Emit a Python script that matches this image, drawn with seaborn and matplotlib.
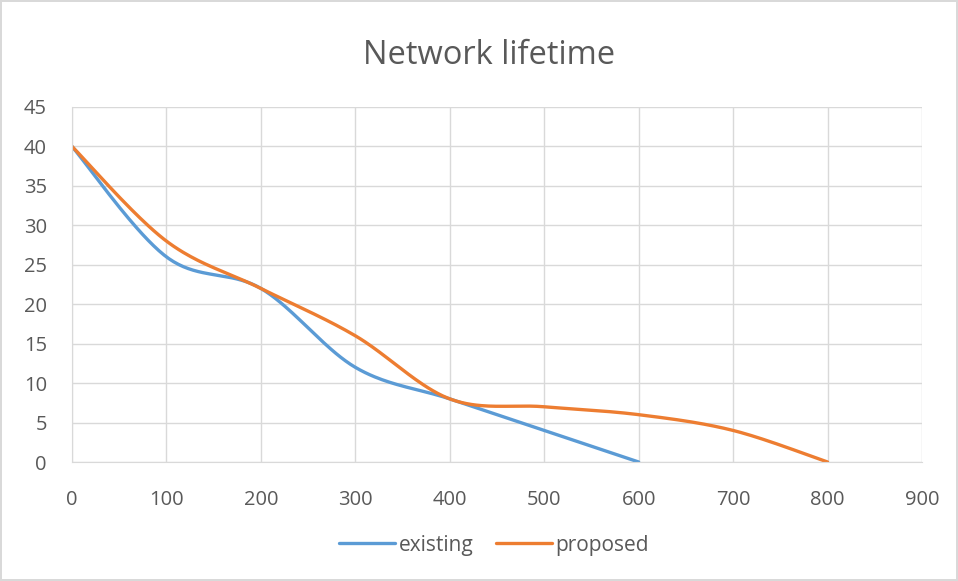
import numpy as np
import pandas as pd
import matplotlib
matplotlib.use("Agg")
import matplotlib.pyplot as plt
import seaborn as sns

# values
x_existing = [0, 100, 200, 300, 400, 500, 600]
existing = [40, 26, 22, 12, 8, 4, 0]
x_proposed = [0, 100, 200, 300, 400, 500, 600, 700, 800]
proposed = [40, 28, 22, 16, 8, 7, 6, 4, 0]


def smooth(xs, ys, n=40):
    # Excel-like smoothed line: cubic Bezier with Catmull-Rom control points
    p = np.column_stack([xs, ys]).astype(float)
    p = np.vstack([p[0], p, p[-1]])
    out = []
    for i in range(1, len(p) - 2):
        p0, p1, p2, p3 = p[i - 1], p[i], p[i + 1], p[i + 2]
        c1 = p1 + (p2 - p0) / 6
        c2 = p2 - (p3 - p1) / 6
        t = np.linspace(0, 1, n)[:, None]
        seg = ((1 - t) ** 3) * p1 + 3 * ((1 - t) ** 2) * t * c1 + 3 * (1 - t) * t ** 2 * c2 + t ** 3 * p2
        out.append(seg if i == 1 else seg[1:])
    return np.vstack(out)


curves = []
for name, xs, ys in [("existing", x_existing, existing), ("proposed", x_proposed, proposed)]:
    s = smooth(xs, ys)
    curves.append(pd.DataFrame({"x": s[:, 0], "y": s[:, 1], "series": name}))
df = pd.concat(curves, ignore_index=True)

sns.set_style("white")
plt.rcParams["font.family"] = ["Open Sans", "DejaVu Sans"]
text_color = "#595959"
grid_color = "#D9D9D9"

fig = plt.figure(figsize=(9.58, 5.81), dpi=100)
fig.patch.set_edgecolor(grid_color)
fig.patch.set_linewidth(1.5)
ax = fig.add_axes([72 / 958, 1 - 462 / 581, 850 / 958, 355 / 581])

sns.lineplot(data=df, x="x", y="y", hue="series", sort=False,
             palette={"existing": "#5B9BD5", "proposed": "#ED7D31"},
             linewidth=2.4, ax=ax, legend=True)

ax.set_xlim(0, 900)
ax.set_ylim(0, 45)
ax.set_xticks(range(0, 901, 100))
ax.set_yticks(range(0, 46, 5))
ax.grid(True, color=grid_color, linewidth=1)
ax.set_axisbelow(True)
for side in ["top", "right"]:
    ax.spines[side].set_visible(False)
for side in ["left", "bottom"]:
    ax.spines[side].set_color(grid_color)
ax.tick_params(axis="both", colors=text_color, labelsize=14.5, length=0)
ax.tick_params(axis="x", pad=20)
ax.tick_params(axis="y", pad=18)
ax.set_xlabel("")
ax.set_ylabel("")

fig.text(489 / 958, 1 - 55 / 581, "Network lifetime", ha="center", va="center",
         fontsize=23.5, color=text_color)

handles, labels = ax.get_legend_handles_labels()
ax.legend(handles, labels, loc="center", bbox_to_anchor=(494 / 958, 1 - 545 / 581),
          bbox_transform=fig.transFigure, ncol=2, frameon=False, fontsize=15,
          labelcolor=text_color, handlelength=2.7, handletextpad=0.15, columnspacing=1.1)

fig.savefig("out.png", dpi=100)
plt.close(fig)
